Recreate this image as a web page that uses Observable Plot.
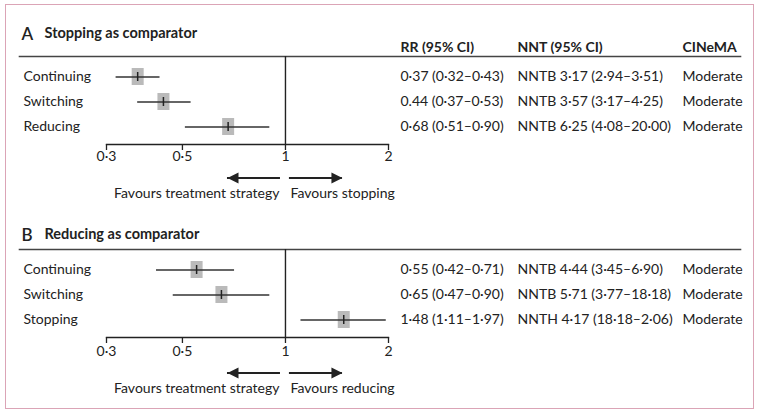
<!DOCTYPE html>
<html><head><meta charset="utf-8">
<script src="https://cdn.jsdelivr.net/npm/d3@7"></script>
<script src="https://cdn.jsdelivr.net/npm/@observablehq/plot@0.6"></script>
<style>
html,body{margin:0;padding:0;background:#fff;}
#fig{position:relative;width:761px;height:416px;overflow:hidden;font-family:Lato,sans-serif;}
#border{position:absolute;left:5px;top:4px;width:747px;height:403px;border:1.5px solid #dba4b6;}
.panel{position:absolute;left:0;}
</style></head><body>
<div id="fig"><div id="border"></div></div>
<script>
// ---------- data ----------
const xTicks = [0.3, 0.5, 1, 2];
const xTickLabels = ["0·3", "0·5", "1", "2"];
const refValue = 1;
const tableHeaders = ["RR (95% CI)", "NNT (95% CI)", "CINeMA"];
const arrowTail = [0.967, 1.027];
const arrowTip = [0.677, 1.467];

const letterA = "A";
const titleA = "Stopping as comparator";
const strategiesA = ["Continuing", "Switching", "Reducing"];
const rrA = [0.37, 0.44, 0.68];
const lowA = [0.32, 0.37, 0.51];
const highA = [0.43, 0.53, 0.90];
const rrLabelsA = ["0·37 (0·32–0·43)", "0.44 (0·37–0·53)", "0·68 (0·51–0·90)"];
const nntLabelsA = ["NNTB 3·17 (2·94–3·51)", "NNTB 3·57 (3·17–4·25)", "NNTB 6·25 (4·08–20·00)"];
const cinemaA = ["Moderate", "Moderate", "Moderate"];
const favoursA = ["Favours treatment strategy", "Favours stopping"];

const letterB = "B";
const titleB = "Reducing as comparator";
const strategiesB = ["Continuing", "Switching", "Stopping"];
const rrB = [0.55, 0.65, 1.48];
const lowB = [0.42, 0.47, 1.11];
const highB = [0.71, 0.90, 1.97];
const rrLabelsB = ["0·55 (0·42–0·71)", "0·65 (0·47–0·90)", "1·48 (1·11–1·97)"];
const nntLabelsB = ["NNTB 4·44 (3·45–6·90)", "NNTB 5·71 (3·77–18·18)", "NNTH 4·17 (18·18–2·06)"];
const cinemaB = ["Moderate", "Moderate", "Moderate"];
const favoursB = ["Favours treatment strategy", "Favours reducing"];

// ---------- drawing ----------
const ink = "#222";
const headLeft = {draw(ctx) { ctx.moveTo(0, 0); ctx.lineTo(11, -5.5); ctx.lineTo(11, 5.5); ctx.closePath(); }};
const headRight = {draw(ctx) { ctx.moveTo(0, 0); ctx.lineTo(-11, -5.5); ctx.lineTo(-11, 5.5); ctx.closePath(); }};

function panel(cfg) {
  const {letter, title, strategies, rr, low, high, rrLabels, nntLabels, cinema, favours,
         showHeader, height, titleDy, arrowDy, favDy, tickDy} = cfg;
  const rows = strategies.map((s, i) => ({strategy: s, rr: rr[i], low: low[i], high: high[i],
    rrLabel: rrLabels[i], nnt: nntLabels[i], cinema: cinema[i]}));
  const ticks = xTicks.map((t, i) => ({value: t, label: xTickLabels[i]}));
  const last = strategies[strategies.length - 1];
  const arrows = arrowTail.map((t, i) => ({tail: t, tip: arrowTip[i]}));
  const W = 761;
  const colDx = [12, 129, 294];
  const cols = ["rrLabel", "nnt", "cinema"];
  const marks = [
    Plot.frame({anchor: "top", insetLeft: -87, insetRight: -352, stroke: "#444", strokeWidth: 1.6}),
    Plot.frame({anchor: "bottom", stroke: ink, strokeWidth: 1.3}),
    Plot.ruleX([refValue], {stroke: ink, strokeWidth: 1.4}),
    Plot.axisX(xTicks, {anchor: "bottom", tickSize: 6, strokeWidth: 1.3, text: null}),
    Plot.text(ticks, {x: "value", text: "label", frameAnchor: "bottom", dy: tickDy, fontSize: 14}),
    Plot.tickX(rows, {x: "rr", y: "strategy", stroke: "#bababa", strokeWidth: 12, insetTop: 4, insetBottom: 4}),
    Plot.ruleY(rows, {y: "strategy", x1: "low", x2: "high", stroke: "#333", strokeWidth: 1.3}),
    Plot.tickX(rows, {x: "rr", y: "strategy", stroke: ink, strokeWidth: 1.5, insetTop: 8, insetBottom: 8}),
    Plot.text(rows, {y: "strategy", text: "strategy", frameAnchor: "left", dx: -83, textAnchor: "start", fontSize: 14}),
    ...cols.map((c, i) => Plot.text(rows, {y: "strategy", text: c, frameAnchor: "right", dx: colDx[i], textAnchor: "start", fontSize: 14})),
    Plot.text([letter], {text: d => d, frameAnchor: "top-left", dx: -85, dy: titleDy, textAnchor: "start", fontSize: 17, fontWeight: 600}),
    Plot.text([title], {text: d => d, frameAnchor: "top-left", dx: -62, dy: titleDy, textAnchor: "start", fontSize: 14.5, fontWeight: "bold"}),
    Plot.ruleY(arrows, {x1: "tail", x2: "tip", y: () => last, dy: arrowDy, stroke: ink, strokeWidth: 2}),
    Plot.dot(arrows.slice(0, 1), {x: "tip", y: () => last, dy: arrowDy, symbol: headLeft, fill: ink, stroke: null}),
    Plot.dot(arrows.slice(1), {x: "tip", y: () => last, dy: arrowDy, symbol: headRight, fill: ink, stroke: null}),
    Plot.text(favours.slice(0, 1), {text: d => d, x: () => refValue, frameAnchor: "bottom", dy: favDy, dx: -6, textAnchor: "end", fontSize: 14}),
    Plot.text(favours.slice(1), {text: d => d, x: () => refValue, frameAnchor: "bottom", dy: favDy, dx: 5, textAnchor: "start", fontSize: 14})
  ];
  if (showHeader) {
    tableHeaders.forEach((h, i) => marks.push(
      Plot.text([h], {text: d => d, frameAnchor: "top-right", dx: colDx[i], dy: -14, textAnchor: "start", fontSize: 14, fontWeight: "bold"})
    ));
  }
  return Plot.plot({
    width: W, height,
    marginLeft: 106, marginRight: W - 388, marginTop: 56, marginBottom: height - 144,
    style: {fontFamily: "Lato, sans-serif", fontSize: "14px", color: ink, background: "transparent", overflow: "visible"},
    x: {type: "log", domain: [xTicks[0], xTicks[xTicks.length - 1]], axis: null},
    y: {type: "band", domain: strategies, padding: 0, insetTop: 7.5, insetBottom: 5.5, axis: null},
    marks
  });
}

const fig = document.getElementById("fig");
const pA = panel({letter: letterA, title: titleA, strategies: strategiesA, rr: rrA, low: lowA, high: highA,
  rrLabels: rrLabelsA, nntLabels: nntLabelsA, cinema: cinemaA, favours: favoursA,
  showHeader: true, height: 208, titleDy: -29, arrowDy: 51, favDy: 53, tickDy: 16});
pA.classList.add("panel"); pA.style.top = "0px";
const pB = panel({letter: letterB, title: titleB, strategies: strategiesB, rr: rrB, low: lowB, high: highB,
  rrLabels: rrLabelsB, nntLabels: nntLabelsB, cinema: cinemaB, favours: favoursB,
  showHeader: false, height: 223, titleDy: -21, arrowDy: 53, favDy: 55, tickDy: 18});
pB.classList.add("panel"); pB.style.top = "193px";
fig.appendChild(pA);
fig.appendChild(pB);
</script>
</body></html>
